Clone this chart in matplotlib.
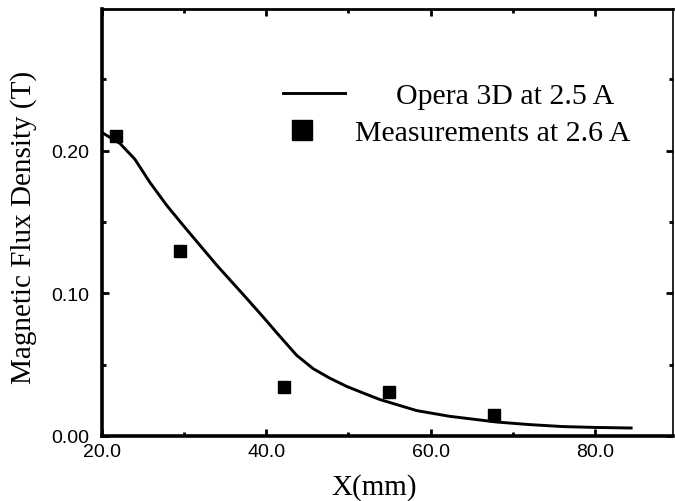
import matplotlib
matplotlib.use("Agg")
import matplotlib.pyplot as plt
from matplotlib.lines import Line2D
from matplotlib.ticker import MultipleLocator, FormatStrFormatter

# courbe Opera 3D
sim_x = [20.2, 22.2, 24.0, 25.8, 27.9, 29.9, 31.9, 34.0, 35.8, 37.6,
         39.6, 41.7, 43.7, 45.7, 47.7, 49.8, 51.8, 53.8, 58.3, 62.3,
         68.0, 72.0, 76.1, 80.0, 84.4]
sim_b = [0.212, 0.205, 0.194, 0.178, 0.1615, 0.1475, 0.1338, 0.1195, 0.108, 0.0965,
         0.0835, 0.0695, 0.0565, 0.0472, 0.0406, 0.0347, 0.0301, 0.0256, 0.0178, 0.0138,
         0.0098, 0.0080, 0.0066, 0.0060, 0.0056]

# mesures
mes_x = [21.7, 29.5, 42.2, 54.9, 67.7]
mes_b = [0.210, 0.130, 0.034, 0.0306, 0.0145]

serif = "Liberation Serif"
sans = "Liberation Sans"

fig = plt.figure(figsize=(6.75, 5.02), dpi=100)
ax = fig.add_axes([0.1511, 0.1295, 0.846, 0.8506])

ax.plot(sim_x, sim_b, color="black", lw=2.1)
ax.plot(mes_x, mes_b, ls="none", marker="s", ms=9, color="black")

ax.set_xlim(20, 89.5)
ax.set_ylim(0, 0.2993)
ax.xaxis.set_major_locator(MultipleLocator(20))
ax.xaxis.set_minor_locator(MultipleLocator(10))
ax.yaxis.set_major_locator(MultipleLocator(0.10))
ax.yaxis.set_minor_locator(MultipleLocator(0.05))
ax.xaxis.set_major_formatter(FormatStrFormatter("%.1f"))
ax.yaxis.set_major_formatter(FormatStrFormatter("%.2f"))

ax.tick_params(which="both", direction="in", top=True, right=True)
ax.tick_params(which="major", length=5, width=2, labelsize=14, pad=5)
ax.tick_params(which="minor", length=3, width=2)
ax.tick_params(axis="y", which="major", pad=9)
for lab in ax.get_xticklabels() + ax.get_yticklabels():
    lab.set_fontfamily(sans)

ax.spines["left"].set_linewidth(2.6)
ax.spines["bottom"].set_linewidth(2.6)
ax.spines["top"].set_linewidth(2.0)
ax.spines["right"].set_linewidth(1.2)

ax.set_xlabel("X(mm)", fontfamily=serif, fontsize=21)
ax.xaxis.set_label_coords(0.476, -0.086)
ax.set_ylabel("Magnetic Flux Density (T)", fontfamily=serif, fontsize=21)
ax.yaxis.set_label_coords(-0.114, 0.49)

# deux légendes pour garder le décalage des textes
h1 = Line2D([], [], color="black", lw=2.1)
h2 = Line2D([], [], ls="none", marker="s", ms=14, color="black")
leg1 = ax.legend([h1], ["Opera 3D at 2.5 A"], loc="center left",
                 bbox_to_anchor=(0.317, 0.797), frameon=False,
                 prop={"family": serif, "size": 21.5},
                 handlelength=2.07, handletextpad=1.7, borderpad=0, borderaxespad=0)
ax.add_artist(leg1)
ax.legend([h2], ["Measurements at 2.6 A"], loc="center left",
          bbox_to_anchor=(0.3235, 0.71), frameon=False,
          prop={"family": serif, "size": 21.5},
          handlelength=1.0, handletextpad=1.3, borderpad=0, borderaxespad=0)

fig.savefig("out.png", dpi=100)
